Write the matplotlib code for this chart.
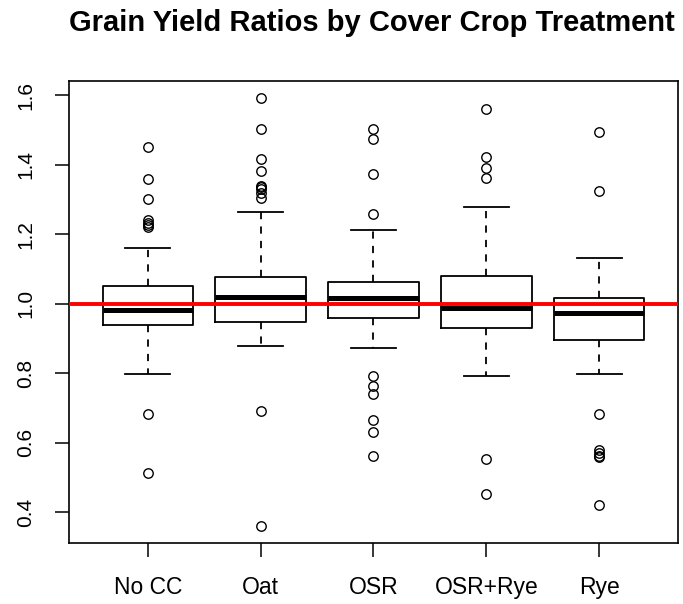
import matplotlib
matplotlib.use("Agg")
import matplotlib.pyplot as plt
import numpy as np

plt.rcParams['font.family'] = ['Liberation Sans', 'DejaVu Sans']

# Treatments and box summary values
treatments = ['No CC', 'Oat', 'OSR', 'OSR+Rye', 'Rye']
whisker_low = [0.799, 0.879, 0.874, 0.792, 0.799]
q1 = [0.938, 0.947, 0.960, 0.931, 0.895]
median = [0.983, 1.021, 1.016, 0.987, 0.973]
q3 = [1.051, 1.078, 1.064, 1.081, 1.016]
whisker_high = [1.160, 1.264, 1.212, 1.278, 1.133]

# Outliers per treatment
outliers_nocc = [1.451, 1.359, 1.303, 1.240, 1.234, 1.228, 1.220, 0.682, 0.513]
outliers_oat = [1.593, 1.503, 1.417, 1.383, 1.340, 1.336, 1.330, 1.318, 1.305, 0.692, 0.362]
outliers_osr = [1.504, 1.475, 1.373, 1.260, 0.793, 0.764, 0.741, 0.666, 0.632, 0.561]
outliers_osrrye = [1.560, 1.422, 1.391, 1.362, 0.553, 0.454]
outliers_rye = [1.495, 1.325, 0.683, 0.579, 0.570, 0.563, 0.559, 0.422]
outliers = [outliers_nocc, outliers_oat, outliers_osr, outliers_osrrye, outliers_rye]

stats = []
for i, name in enumerate(treatments):
    stats.append({'label': name, 'med': median[i], 'q1': q1[i], 'q3': q3[i],
                  'whislo': whisker_low[i], 'whishi': whisker_high[i],
                  'fliers': outliers[i]})

fig = plt.figure(figsize=(6.83, 6.04), dpi=100)
ax = fig.add_axes([0.1006, 0.1015, 0.8925, 0.7649])

lw = 1.3
ax.bxp(stats, positions=np.arange(1, 6), widths=0.8, showfliers=True,
       boxprops=dict(color='black', linewidth=lw),
       medianprops=dict(color='black', linewidth=3.6, solid_capstyle='butt'),
       whiskerprops=dict(color='black', linewidth=lw, linestyle=(0, (4, 4))),
       capprops=dict(color='black', linewidth=lw),
       capwidths=0.4,
       flierprops=dict(marker='o', markerfacecolor='none', markeredgecolor='black',
                       markersize=6.8, markeredgewidth=1.0))

ax.axhline(1.0, color='red', linewidth=2.8, zorder=5)

# R-style axis limits: 4% extension around the data range
all_vals = np.concatenate([np.concatenate(outliers), whisker_low, whisker_high])
lo, hi = all_vals.min(), all_vals.max()
pad = 0.04 * (hi - lo)
ax.set_ylim(lo - pad, hi + pad)
ax.set_xlim(0.3, 5.7)

ax.set_yticks([0.4, 0.6, 0.8, 1.0, 1.2, 1.4, 1.6])
ax.set_yticklabels(['0.4', '0.6', '0.8', '1.0', '1.2', '1.4', '1.6'],
                   rotation=90, va='center', fontsize=15)
ax.set_xticks(np.arange(1, 6))
ax.set_xticklabels(treatments, fontsize=16.5)
ax.tick_params(axis='both', direction='out', length=10, width=1.1, colors='black')
ax.tick_params(axis='y', pad=14)
ax.tick_params(axis='x', pad=14)

for s in ax.spines.values():
    s.set_linewidth(1.2)

fig.text(0.5445, 0.962, 'Grain Yield Ratios by Cover Crop Treatment',
         ha='center', va='center', fontsize=21, fontweight='bold')

fig.savefig('out.png', dpi=100)
